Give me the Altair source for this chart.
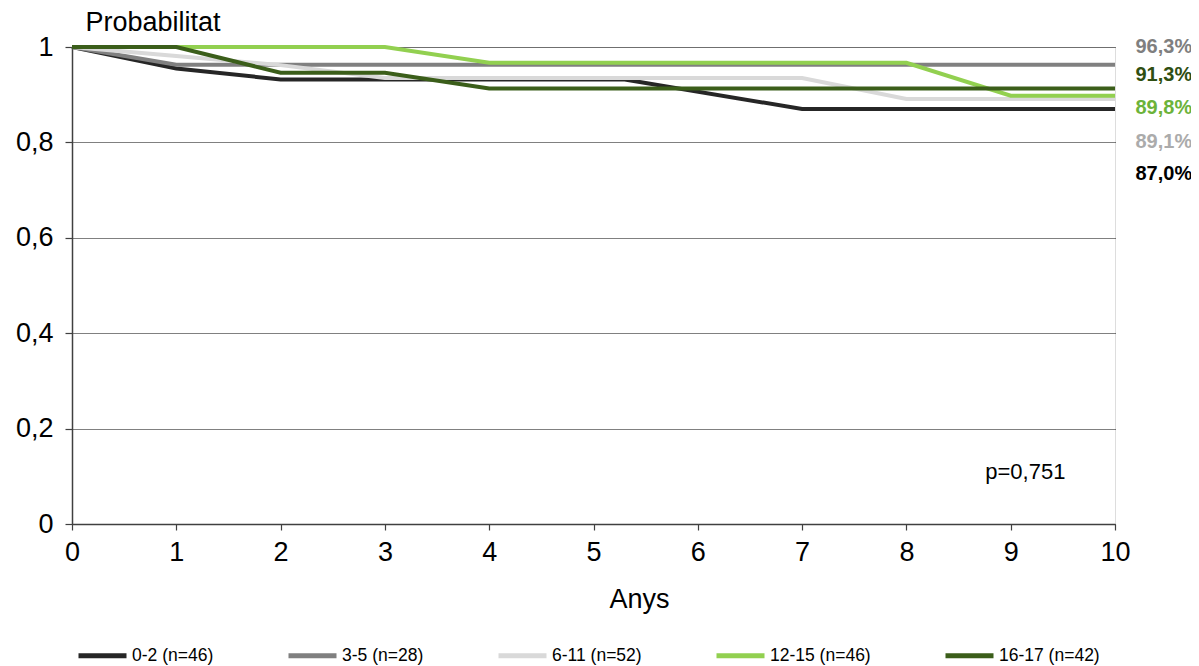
import altair as alt
import pandas as pd

years = [0, 1, 2, 3, 4, 5, 6, 7, 8, 9, 10]
groups = ["0-2 (n=46)", "3-5 (n=28)", "6-11 (n=52)", "12-15 (n=46)", "16-17 (n=42)"]
t_0_2 = [0, 1, 2, 3, 4, 5.3, 7, 8, 9, 10]
s_0_2 = [1.0, 0.955, 0.932, 0.932, 0.932, 0.932, 0.870, 0.870, 0.870, 0.870]
s_3_5 = [1.0, 0.963, 0.963, 0.963, 0.963, 0.963, 0.963, 0.963, 0.963, 0.963, 0.963]
s_6_11 = [1.0, 0.981, 0.962, 0.935, 0.935, 0.935, 0.935, 0.935, 0.891, 0.891, 0.891]
s_12_15 = [1.0, 1.0, 1.0, 1.0, 0.967, 0.967, 0.967, 0.967, 0.967, 0.898, 0.898]
s_16_17 = [1.0, 1.0, 0.946, 0.946, 0.913, 0.913, 0.913, 0.913, 0.913, 0.913, 0.913]
line_colors = ["#262626", "#808080", "#d9d9d9", "#92d050", "#3b5e1a"]

end_labels = ["96,3%", "91,3%", "89,8%", "89,1%", "87,0%"]
end_label_y = [1.0, 0.941, 0.872, 0.801, 0.734]
end_label_colors = ["#7f7f7f", "#2f4f12", "#6cb33a", "#ababab", "#000000"]
p_text = "p=0,751"

FONT = "Liberation Sans, Arial, sans-serif"

series = [(t_0_2, s_0_2), (years, s_3_5), (years, s_6_11), (years, s_12_15), (years, s_16_17)]
rows = []
for g, (ts, vals) in zip(groups, series):
    for x, v in zip(ts, vals):
        rows.append({"grup": g, "anys": x, "prob": v})
df = pd.DataFrame(rows)

lab_df = pd.DataFrame({"label": end_labels, "y": end_label_y, "col": end_label_colors})
p_df = pd.DataFrame({"t": [p_text]})

xscale = alt.Scale(domain=[0, 10], nice=False, zero=False)
yscale = alt.Scale(domain=[0, 1], nice=False)

x_enc = alt.X("anys:Q", scale=xscale, title="Anys",
              axis=alt.Axis(values=years, format="d", grid=False, labelFontSize=27,
                            labelFont=FONT, labelColor="#000", labelPadding=9,
                            labelFlush=False,
                            tickSize=6, tickColor="#404040", domainColor="#404040",
                            domainWidth=1.5, tickWidth=1.2,
                            titleFont=FONT, titleFontSize=27, titleFontWeight="normal",
                            titleColor="#000", titleX=567, titleY=83,
                            titleBaseline="alphabetic", titleAlign="center"))
y_enc = alt.Y("prob:Q", scale=yscale, title="Probabilitat",
              axis=alt.Axis(values=[0, 0.2, 0.4, 0.6, 0.8, 1],
                            labelExpr="replace(format(datum.value, '.1~f'), '.', ',')",
                            grid=True, gridDash=[1, 1], gridColor="#000", gridWidth=1,
                            labelFontSize=27, labelFont=FONT, labelColor="#000",
                            labelPadding=12, tickSize=7, tickColor="#404040",
                            labelFlush=False,
                            domainColor="#404040", domainWidth=1.5, tickWidth=1.2,
                            titleFont=FONT, titleFontSize=27, titleFontWeight="normal",
                            titleColor="#000", titleAngle=0, titleX=13, titleY=-17,
                            titleAlign="left", titleBaseline="alphabetic"))
color_enc = alt.Color("grup:N", scale=alt.Scale(domain=groups, range=line_colors),
                      sort=groups,
                      legend=alt.Legend(orient="none", direction="horizontal", title=None,
                                        legendX=4, legendY=582, symbolType="stroke",
                                        symbolSize=2304, symbolStrokeWidth=5,
                                        labelFontSize=17.5, labelFont=FONT, labelColor="#000",
                                        labelOffset=3, columnPadding=64))

line_layers = []
for g in groups:
    line_layers.append(
        alt.Chart(df).transform_filter(alt.datum.grup == g)
        .mark_line(strokeWidth=4, strokeJoin="miter", strokeCap="butt")
        .encode(x=x_enc, y=y_enc, color=color_enc)
    )

labels = alt.Chart(lab_df).mark_text(align="right", baseline="middle", fontSize=20,
                                     fontWeight="bold", font=FONT).encode(
    x=alt.datum(10.74, scale=xscale),
    y=alt.Y("y:Q", scale=yscale),
    text="label:N",
    color=alt.Color("col:N", scale=None),
)

ptext = alt.Chart(p_df).mark_text(align="center", baseline="middle", fontSize=22,
                                  font=FONT, color="#000").encode(
    x=alt.datum(9.14, scale=xscale),
    y=alt.datum(0.109, scale=yscale),
    text="t:N",
)

chart = alt.layer(*line_layers, labels, ptext).properties(
    width=1043, height=477,
    autosize=alt.AutoSizeParams(type="none"),
    padding={"left": 64, "top": 39, "right": 76, "bottom": 142},
).configure_view(stroke="#000", strokeWidth=1).configure(background="white")

chart.save("out.html", embed_options={"renderer": "svg", "actions": False})
